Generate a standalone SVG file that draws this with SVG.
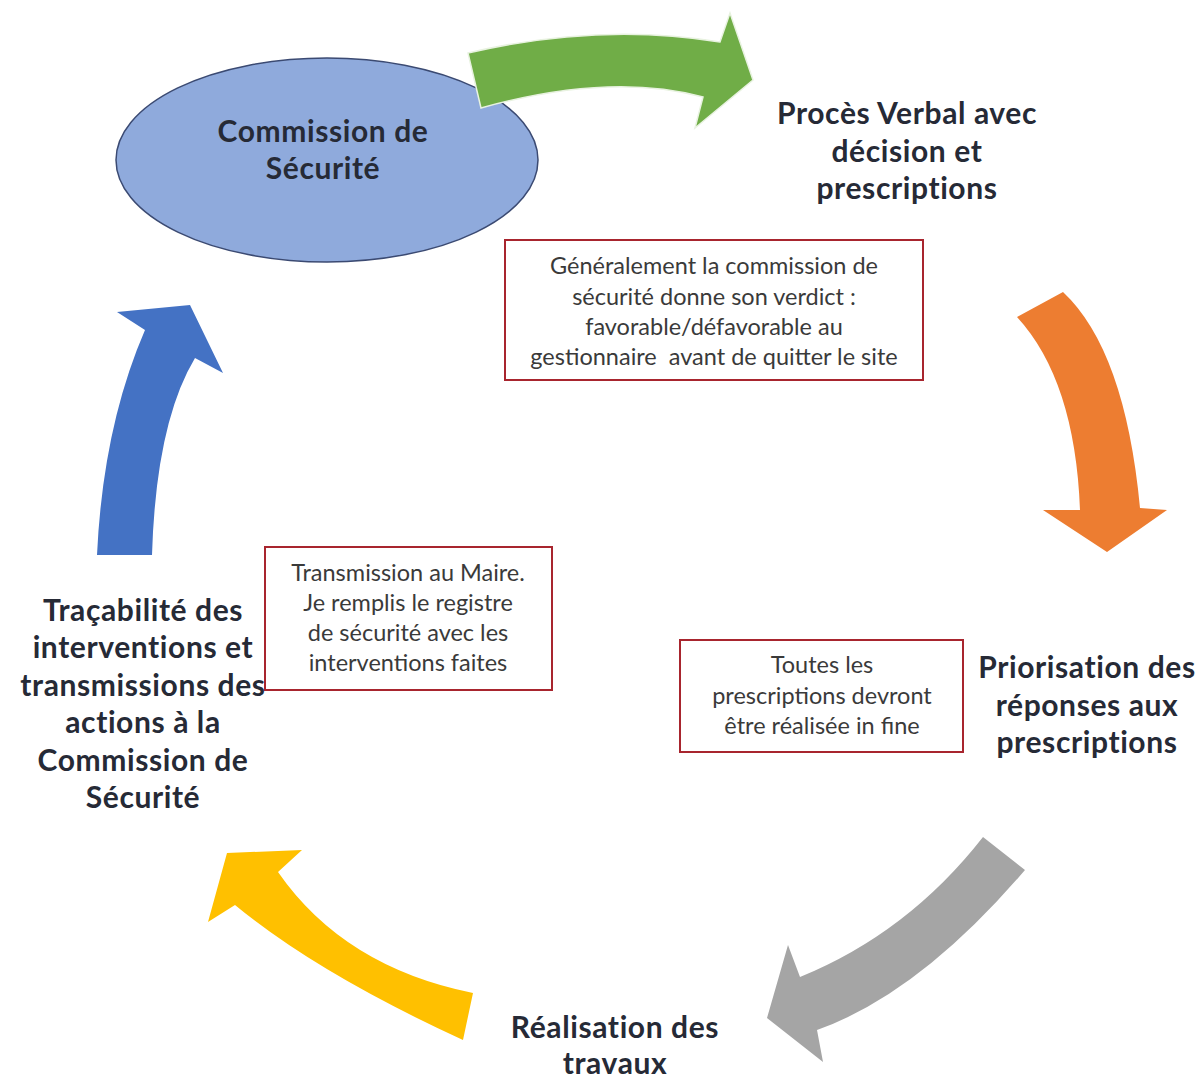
<svg xmlns="http://www.w3.org/2000/svg" width="1204" height="1080" viewBox="0 0 1204 1080">
<style>
.title{font-family:Lato,"Noto Sans",sans-serif;font-weight:bold;font-size:30px;letter-spacing:0.6px;fill:#262a36;text-anchor:middle}
.note{font-family:Lato,"Noto Sans",sans-serif;font-size:23.5px;fill:#3a3a3a;text-anchor:middle}
.box{fill:#ffffff;stroke:#a8252e;stroke-width:2}
</style>
<rect width="1204" height="1080" fill="#ffffff"/>
<g id="node-commission">
<ellipse cx="327" cy="160" rx="211" ry="102" fill="#8faadc" stroke="#3b4a72" stroke-width="1.5"/>
<text class="title" x="323" y="142">Commission de</text>
<text class="title" x="323" y="179">Sécurité</text>
</g>
<g id="connectors">
<path id="arrow-green" d="M468,53 Q600,22 720,42 L730,13 L753,80 L695,128 L703,97 Q610,72 481,108 Z" fill="#70ad47" stroke="#e8f2e0" stroke-width="1.5"/>
<path id="arrow-orange" d="M1017,317 L1063,292 Q1125,350 1140,508 L1167,510 L1107,552 L1043,510 L1080,510 Q1075,380 1017,317 Z" fill="#ed7d31"/>
<path id="arrow-gray" d="M983,837 L1025,870 Q919,994 817,1030 L823,1062 L767,1018 L788,945 L800,977 Q908,933 983,837 Z" fill="#a5a5a5"/>
<path id="arrow-yellow" d="M473,993 L463,1040 Q317,973 235,905 L208,922 L227,853 L302,850 L278,872 Q344,967 473,993 Z" fill="#ffc000"/>
<path id="arrow-blue" d="M97,555 L152,555 Q156,423 195,358 L223,373 L190,305 L117,312 L145,330 Q103,427 97,555 Z" fill="#4472c4"/>
</g>
<g id="node-pv">
<text class="title" x="907" y="124">Procès Verbal avec</text>
<text class="title" x="907" y="162">décision et</text>
<text class="title" x="907" y="199">prescriptions</text>
</g>
<g id="node-priorisation">
<text class="title" x="1087" y="678">Priorisation des</text>
<text class="title" x="1087" y="716">réponses aux</text>
<text class="title" x="1087" y="753">prescriptions</text>
</g>
<g id="node-realisation">
<text class="title" x="615" y="1038">Réalisation des</text>
<text class="title" x="615" y="1074">travaux</text>
</g>
<g id="node-tracabilite">
<text class="title" x="143" y="621">Traçabilité des</text>
<text class="title" x="143" y="658">interventions et</text>
<text class="title" x="143" y="696">transmissions des</text>
<text class="title" x="143" y="733">actions à la</text>
<text class="title" x="143" y="771">Commission de</text>
<text class="title" x="143" y="808">Sécurité</text>
</g>
<g id="note-verdict">
<rect class="box" x="505" y="240" width="418" height="140"/>
<text class="note" x="714" y="274">Généralement la commission de</text>
<text class="note" x="714" y="305">sécurité donne son verdict :</text>
<text class="note" x="714" y="335">favorable/défavorable au</text>
<text class="note" x="714" y="365" xml:space="preserve">gestionnaire  avant de quitter le site</text>
</g>
<g id="note-maire">
<rect class="box" x="265" y="547" width="287" height="143"/>
<text class="note" x="408" y="581">Transmission au Maire.</text>
<text class="note" x="408" y="611">Je remplis le registre</text>
<text class="note" x="408" y="641">de sécurité avec les</text>
<text class="note" x="408" y="671">interventions faites</text>
</g>
<g id="note-toutes">
<rect class="box" x="680" y="640" width="283" height="112"/>
<text class="note" x="822" y="673">Toutes les</text>
<text class="note" x="822" y="704">prescriptions devront</text>
<text class="note" x="822" y="734">être réalisée in fine</text>
</g>
</svg>
